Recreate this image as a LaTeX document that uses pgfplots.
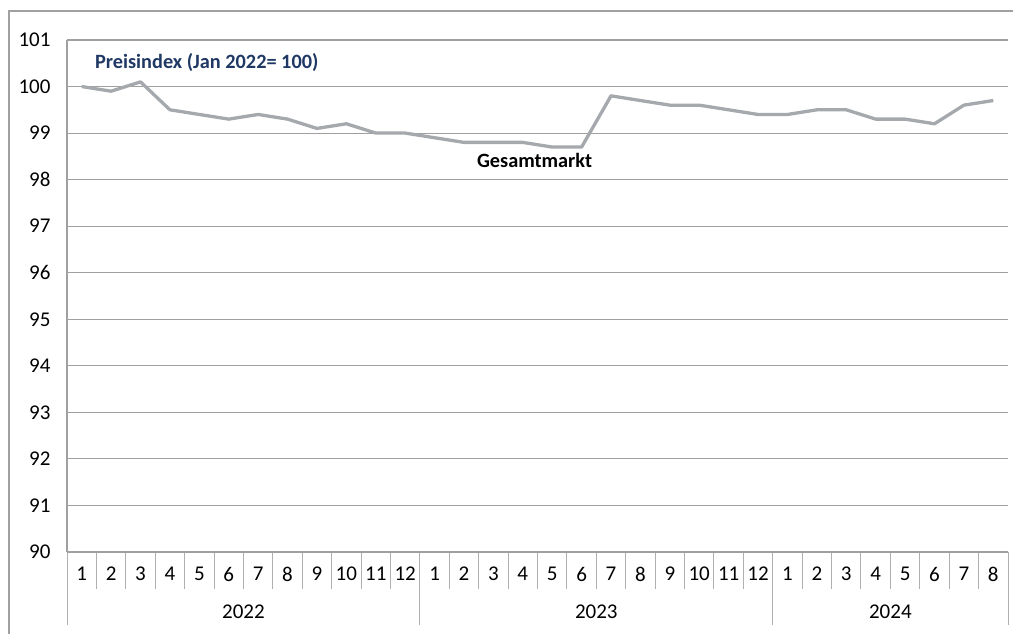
\documentclass[border=0pt]{standalone}
\usepackage{fontspec}
\setmainfont{Carlito}
\usepackage{pgfplots}
\pgfplotsset{compat=1.18}

\definecolor{linegray}{RGB}{165,168,172}
\definecolor{gridgray}{RGB}{160,160,160}
\definecolor{sepgray}{RGB}{175,175,175}
\definecolor{titleblue}{RGB}{31,56,100}

\begin{document}
\begin{tikzpicture}
\useasboundingbox (0,0) rectangle (1014pt,634pt);
% outer chart frame (cut at right and bottom)
\draw[gridgray, line width=1.2pt] (9pt,0pt) -- (9pt,623pt) -- (1013pt,623pt);

\begin{axis}[
    at={(67pt,82pt)}, anchor=south west,
    scale only axis,
    width=941pt, height=512pt,
    xmin=-0.5, xmax=31.5,
    ymin=90, ymax=101,
    ytick={90,...,101},
    ymajorgrids=true,
    grid style={gridgray, line width=1.1pt},
    axis x line*=bottom, axis y line*=left,
    axis line style={gridgray, line width=1.1pt},
    ytick style={draw=none},
    yticklabel style={anchor=east, xshift=24pt},
    tick label style={font=\fontsize{21}{24}\selectfont},
    /pgf/number format/assume math mode=true,
    tick align=outside,
    xtick={-0.5,0.5,...,31.5},
    xticklabels={},
    major tick length=37pt,
    minor xtick={-0.5,11.5,23.5,31.5},
    minor tick length=73pt,
    xtick style={sepgray, line width=1pt},
    extra x ticks={0,...,31},
    extra x tick labels={1,2,3,4,5,6,7,8,9,10,11,12,1,2,3,4,5,6,7,8,9,10,11,12,1,2,3,4,5,6,7,8},
    extra x tick style={major tick length=0pt, xticklabel style={anchor=center, yshift=-22pt}},
    clip=false,
]
\addplot[linegray, line width=3.3pt, line join=round] coordinates {
(0,100.0) (1,99.9) (2,100.1) (3,99.5) (4,99.4) (5,99.3) (6,99.4) (7,99.3)
(8,99.1) (9,99.2) (10,99.0) (11,99.0)
(12,98.9) (13,98.8) (14,98.8) (15,98.8) (16,98.7) (17,98.7) (18,99.8) (19,99.7)
(20,99.6) (21,99.6) (22,99.5) (23,99.4)
(24,99.4) (25,99.5) (26,99.5) (27,99.3) (28,99.3) (29,99.2) (30,99.6) (31,99.7)
};
\node[anchor=west, inner sep=0pt, text=titleblue, font=\bfseries\fontsize{20.3}{24}\selectfont] at (axis cs:0.45,100.52) {Preisindex (Jan 2022= 100)};
\node[inner sep=0pt, font=\bfseries\fontsize{20.3}{24}\selectfont] at (axis cs:15.4,98.41) {Gesamtmarkt};
\node[inner sep=0pt, yshift=-60pt, font=\fontsize{21}{24}\selectfont] at (axis cs:5.5,90) {2022};
\node[inner sep=0pt, yshift=-60pt, font=\fontsize{21}{24}\selectfont] at (axis cs:17.5,90) {2023};
\node[inner sep=0pt, yshift=-60pt, font=\fontsize{21}{24}\selectfont] at (axis cs:27.5,90) {2024};
\end{axis}
\end{tikzpicture}
\end{document}
